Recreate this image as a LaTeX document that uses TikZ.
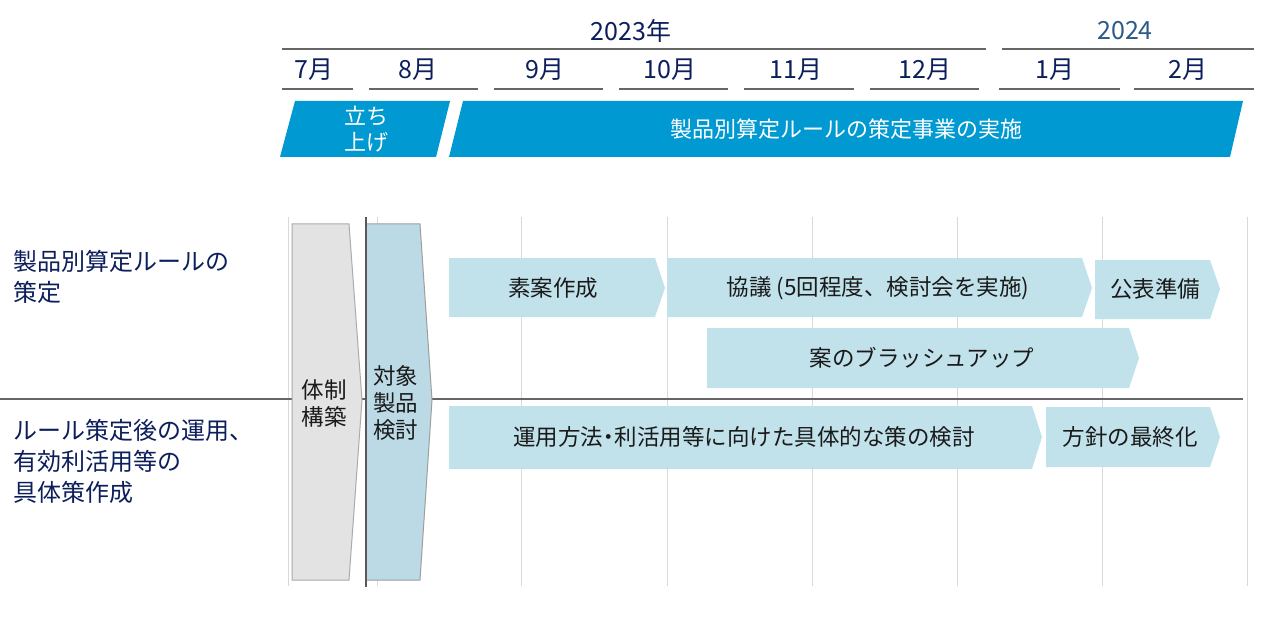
\documentclass[tikz,border=0pt]{standalone}
\usepackage{fontspec}
\setmainfont{Noto Sans CJK JP}
\definecolor{navy}{RGB}{12,30,92}
\definecolor{steel}{RGB}{46,90,135}
\definecolor{banner}{RGB}{0,153,209}
\definecolor{chevlight}{RGB}{194,226,235}
\definecolor{chevblue}{RGB}{188,218,229}
\definecolor{chevgray}{RGB}{227,227,227}
\definecolor{gridc}{RGB}{217,217,217}
\definecolor{rulec}{RGB}{102,102,102}
\definecolor{txt}{RGB}{26,26,26}
\tikzset{
  gridline/.style={draw=gridc, line width=1pt},
  rulegray/.style={draw=rulec, line width=1.3pt},
  bannerbox/.style={fill=banner},
  lightchev/.style={fill=chevlight},
  monthtxt/.style={inner sep=0pt, text=navy, font=\fontsize{25}{28}\selectfont},
  bannertxt/.style={inner sep=0pt, text=white, font=\fontsize{22}{26}\selectfont, align=center},
  chevtxt/.style={inner sep=0pt, text=txt, font=\fontsize{22.5}{27}\selectfont},
  sidetxt/.style={inner sep=0pt, text=navy, font=\fontsize{24}{31}\selectfont, align=left, anchor=west},
}
\begin{document}
\begin{tikzpicture}[x=1pt,y=-1pt]
\useasboundingbox (0,0) rectangle (1266,639);
\fill[white] (0,0) rectangle (1266,639);

% grid
\foreach \x in {288,377,521,667,812,957,1102,1247}
  \draw[gridline] (\x,217) -- (\x,586);
\draw[rulegray] (0,399) -- (1243,399);

% header lines
\draw[rulegray] (282,49) -- (986,49);
\draw[rulegray] (1002,49) -- (1254,49);
\foreach \a/\b in {282/353,369/478,494/603,619/728,744/854,870/979,999/1120,1134/1254}
  \draw[rulegray] (\a,89) -- (\b,89);

\node[monthtxt] (y2023) at (631,31) {2023年};
\node[monthtxt, text=steel] (y2024) at (1125,31) {2024};
\node[monthtxt] (m7) at (314,70) {7月};
\node[monthtxt] (m8) at (418,70) {8月};
\node[monthtxt] (m9) at (545,70) {9月};
\node[monthtxt] (m10) at (670,70) {10月};
\node[monthtxt] (m11) at (796,70) {11月};
\node[monthtxt] (m12) at (925,70) {12月};
\node[monthtxt] (m1) at (1055,70) {1月};
\node[monthtxt] (m2) at (1188,70) {2月};

% banners
\fill[bannerbox] (295,101) -- (450,101) -- (436,157) -- (280,157) -- cycle;
\fill[bannerbox] (463,101) -- (1243,101) -- (1230,157) -- (449,157) -- cycle;
\node[bannertxt] (tachiage) at (366,129) {立ち\\上げ};
\node[bannertxt] (jigyo) at (846,129) {製品別算定ルールの策定事業の実施};

% tall chevrons
\filldraw[fill=chevgray, draw=black!33, line width=1pt]
  (292,224) -- (349,224) -- (362,400) -- (349,580) -- (292,580) -- cycle;
\filldraw[fill=chevblue, draw=black!38, line width=1pt]
  (366,224) -- (420,224) -- (432,400) -- (420,580) -- (366,580) -- cycle;
\draw[draw=black!65, line width=1.3pt] (366,217) -- (366,587);
\node[chevtxt, align=center] (taisei) at (324,403) {体制\\構築};
\node[chevtxt, align=left, anchor=west] (taisho) at (373,403) {対象\\製品\\検討};

% light chevrons
\fill[lightchev] (449,258) -- (655,258) -- (665,288) -- (655,317) -- (449,317) -- cycle;
\fill[lightchev] (667,258) -- (1082,258) -- (1092,288) -- (1082,317) -- (667,317) -- cycle;
\fill[lightchev] (1095,260) -- (1210,260) -- (1220,289) -- (1210,319) -- (1095,319) -- cycle;
\fill[lightchev] (707,328) -- (1129,328) -- (1139,358) -- (1129,388) -- (707,388) -- cycle;
\fill[lightchev] (449,406) -- (1032,406) -- (1042,437) -- (1032,469) -- (449,469) -- cycle;
\fill[lightchev] (1046,407) -- (1210,407) -- (1220,437) -- (1210,467) -- (1046,467) -- cycle;

\node[chevtxt] (soan) at (553,288) {素案作成};
\node[chevtxt] (kyogi) at (878,288) {協議 (5回程度、検討会を実施)};
\node[chevtxt] (kohyo) at (1155,289) {公表準備};
\node[chevtxt] (brush) at (922,358) {案のブラッシュアップ};
\node[chevtxt] (unyo) at (744,437) {運用方法\kern-0.25em・\kern-0.25em 利活用等に向けた具体的な策の検討};
\node[chevtxt] (hoshin) at (1130,437) {方針の最終化};

% side labels
\node[sidetxt] (side1) at (13,277) {製品別算定ルールの\\策定};
\node[sidetxt] (side2) at (13,461) {ルール策定後の運用、\\有効利活用等の\\具体策作成};
\end{tikzpicture}
\end{document}
